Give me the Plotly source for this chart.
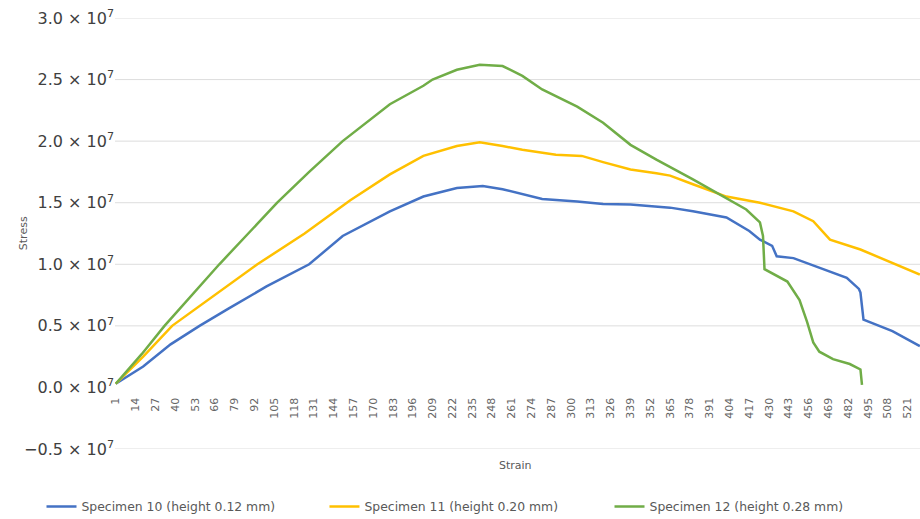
import plotly.graph_objects as go

# Strain index (category) and stress values (×10^7)
blue_x = [1, 19, 37, 56, 75, 100, 128, 150, 181, 203, 225, 242, 255, 268, 281, 304, 321, 339, 356, 365,
          380, 402, 417, 424, 432, 435, 446, 464, 481, 489, 490, 492, 511, 529]
blue_y = [0.03, 0.17, 0.35, 0.50, 0.64, 0.82, 1.00, 1.23, 1.43, 1.55, 1.62, 1.635, 1.61, 1.57, 1.53, 1.51, 1.49, 1.485, 1.47, 1.46,
          1.43, 1.38, 1.27, 1.20, 1.15, 1.065, 1.05, 0.97, 0.89, 0.80, 0.77, 0.55, 0.457, 0.335]

yellow_x = [1, 19, 38, 65, 94, 125, 155, 181, 203, 225, 240, 255, 268, 290, 307, 321, 339, 356, 365,
            380, 402, 424, 446, 459, 470, 490, 511, 529]
yellow_y = [0.03, 0.25, 0.50, 0.74, 1.00, 1.25, 1.52, 1.73, 1.88, 1.96, 1.99, 1.96, 1.93, 1.89, 1.88, 1.83, 1.77, 1.74, 1.72,
            1.65, 1.55, 1.50, 1.43, 1.35, 1.20, 1.12, 1.01, 0.917]

green_x = [1, 18, 33, 50, 69, 88, 107, 128, 150, 181, 203, 209, 225, 240, 255, 268, 281, 304, 321, 339, 356,
           380, 402, 415, 424, 426, 427, 430, 442, 450, 455, 459, 463, 472, 483, 490, 491]
green_y = [0.03, 0.27, 0.50, 0.74, 1.00, 1.25, 1.50, 1.75, 2.00, 2.30, 2.45, 2.50, 2.58, 2.62, 2.61, 2.53, 2.42, 2.28, 2.15, 1.97, 1.85,
           1.69, 1.54, 1.445, 1.34, 1.23, 0.96, 0.94, 0.86, 0.71, 0.53, 0.365, 0.29, 0.23, 0.19, 0.146, 0.02]

series_names = ["Specimen 10 (height 0.12 mm)", "Specimen 11 (height 0.20 mm)", "Specimen 12 (height 0.28 mm)"]
series_colors = ["#4472C4", "#FFC000", "#70AD47"]
legend_ids = ["legend", "legend2", "legend3"]
legend_x = [-0.0913, 0.2602, 0.6143]

x_tick_vals = list(range(1, 530, 13))
x_tick_text = [str(v) for v in x_tick_vals]
y_tick_vals = [-0.5, 0.0, 0.5, 1.0, 1.5, 2.0, 2.5, 3.0]
y_tick_text = ["\u22120.5 \u00d7 10<sup>7</sup>", "0.0 \u00d7 10<sup>7</sup>", "0.5 \u00d7 10<sup>7</sup>",
               "1.0 \u00d7 10<sup>7</sup>", "1.5 \u00d7 10<sup>7</sup>", "2.0 \u00d7 10<sup>7</sup>",
               "2.5 \u00d7 10<sup>7</sup>", "3.0 \u00d7 10<sup>7</sup>"]

FONT = "DejaVu Sans"

fig = go.Figure()
for xs, ys, name, col, lg in zip([blue_x, yellow_x, green_x], [blue_y, yellow_y, green_y],
                                 series_names, series_colors, legend_ids):
    fig.add_trace(go.Scatter(x=xs, y=[v * 1e7 for v in ys], mode="lines", name=name,
                             line=dict(color=col, width=2.5), legend=lg))

for v in y_tick_vals:
    if v != 0:
        fig.add_shape(type="line", xref="paper", x0=0, x1=1, yref="y", y0=v * 1e7, y1=v * 1e7,
                      line=dict(color="#DDDDDD", width=1), layer="below")

legend_common = dict(orientation="h", xanchor="left", y=-0.1346, yanchor="middle",
                     font=dict(size=12.4, color="#595959", family=FONT), bgcolor="rgba(0,0,0,0)")

fig.update_layout(
    width=920, height=519,
    margin=dict(l=115, r=0, t=18, b=70, autoexpand=False),
    paper_bgcolor="white", plot_bgcolor="white",
    font=dict(family=FONT, color="#595959"),
    xaxis=dict(range=[0.5, 529.1], tickvals=x_tick_vals, ticktext=x_tick_text, tickangle=-90,
               showgrid=False, zeroline=False, showline=False, ticks="", automargin=False,
               anchor="free", position=0.5 / 3.5, side="bottom", ticklabelstandoff=7,
               tickfont=dict(size=11, color="#666666", family=FONT)),
    yaxis=dict(range=[-0.5e7, 3.0e7], tickvals=[v * 1e7 for v in y_tick_vals], ticktext=y_tick_text,
               showgrid=False, zeroline=False, showline=False, ticks="", automargin=False,
               tickfont=dict(size=16, color="#404040", family=FONT)),
    showlegend=True,
    legend=dict(x=legend_x[0], **legend_common),
    legend2=dict(x=legend_x[1], **legend_common),
    legend3=dict(x=legend_x[2], **legend_common),
    annotations=[
        dict(text="Stress", xref="paper", yref="paper", x=-0.124, y=0.5, showarrow=False,
             textangle=-90, font=dict(size=11, color="#595959", family=FONT)),
        dict(text="Strain", xref="paper", yref="paper", x=0.4976, y=-0.0586, showarrow=False,
             font=dict(size=11, color="#595959", family=FONT)),
    ],
)

fig.write_html("out.html")
